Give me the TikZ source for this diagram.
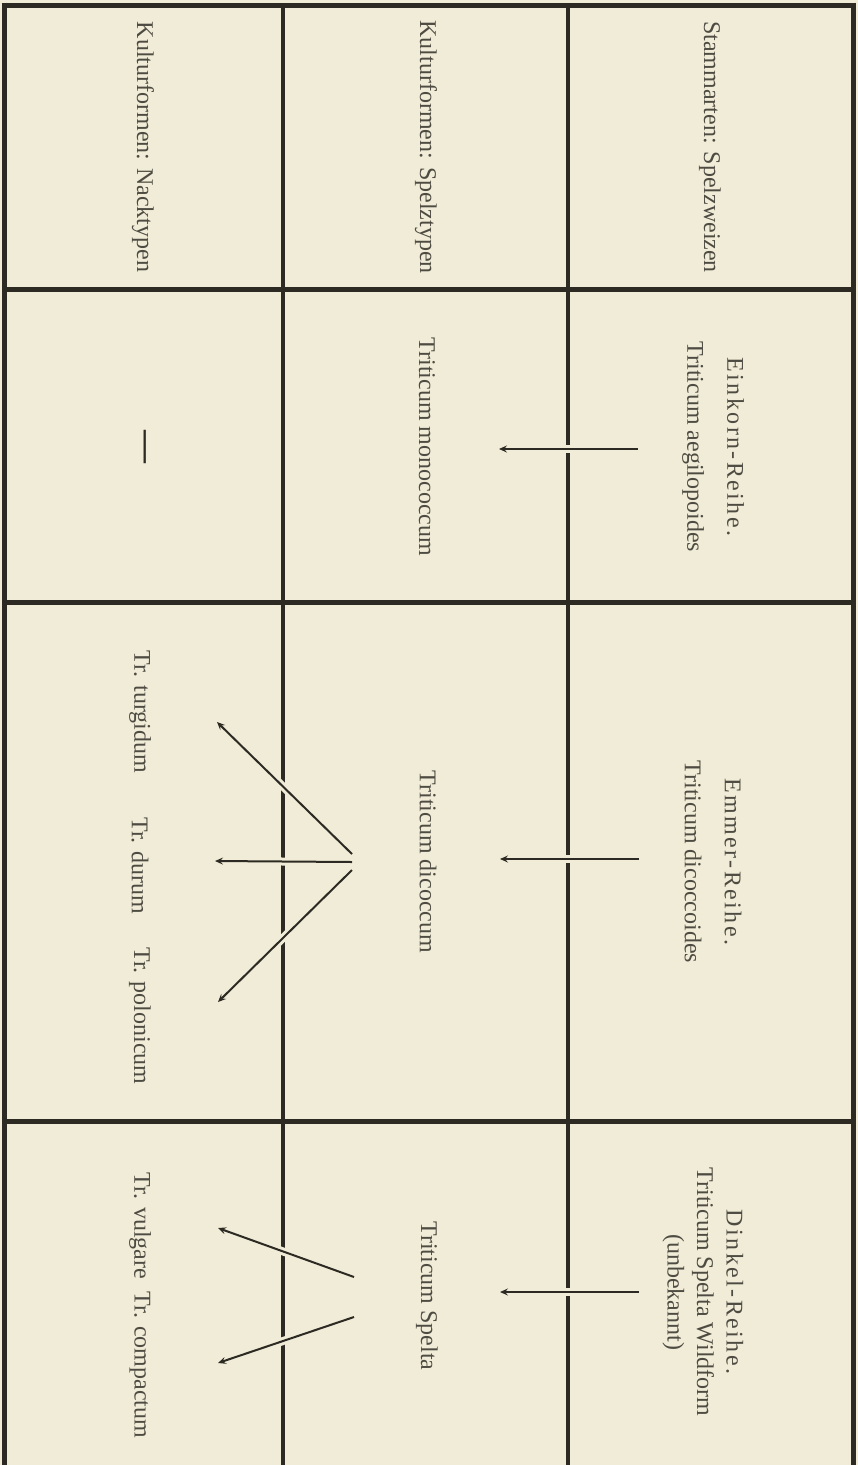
\documentclass[tikz,border=0pt]{standalone}
\usepackage{fontspec}
\setmainfont{Liberation Serif}
\newfontfamily\sperr[LetterSpace=10]{Liberation Serif}
\usetikzlibrary{arrows.meta}
\definecolor{paper}{HTML}{F1ECD7}
\definecolor{ink}{HTML}{2C2A22}
\definecolor{txt}{HTML}{4E4B42}
\begin{document}
\begin{tikzpicture}[x=1pt,y=-1pt,
  rule/.style={draw=ink,line width=5pt},
  inner/.style={draw=ink,line width=4pt},
  lbl/.style={text=txt,font=\fontsize{24}{28}\selectfont,rotate=-90,inner sep=0pt,align=center},
  arr/.style={draw=ink,line width=2pt,-{Stealth[length=8pt,width=7pt,inset=3pt]}},
  halo/.style={draw=paper,line width=8pt}]
\fill[paper] (0,0) rectangle (858,1465);
\useasboundingbox (0,0) rectangle (858,1465);
% table rules
\draw[rule] (1.5,5) -- (855.5,5);
\draw[rule] (4,2.5) -- (4,1465);
\draw[rule] (853,2.5) -- (853,1465);
\draw[rule] (4,289) -- (853,289);
\draw[rule] (4,602) -- (853,602);
\draw[rule] (4,1121) -- (853,1121);
\draw[inner] (283,5) -- (283,1465);
\draw[inner] (568,5) -- (568,1465);
% arrow end points
\coordinate (einS) at (638,449);  \coordinate (einT) at (499,449);
\coordinate (emS)  at (639,859);  \coordinate (emT)  at (500,859);
\coordinate (diS)  at (639,1292); \coordinate (diT)  at (500,1292);
\coordinate (fa1S) at (352,854);  \coordinate (fa1T) at (217,722);
\coordinate (fa2S) at (352,862);  \coordinate (fa2T) at (215,861);
\coordinate (fa3S) at (352,870);  \coordinate (fa3T) at (218,1002);
\coordinate (fb1S) at (354,1277); \coordinate (fb1T) at (218,1228);
\coordinate (fb2S) at (354,1317); \coordinate (fb2T) at (218,1363);
% halos (gaps in the rules where arrows cross)
\foreach \a in {ein,em,di,fa1,fa2,fa3,fb1,fb2}{\draw[halo] (\a S) -- (\a T);}
% arrows
\foreach \a in {ein,em,di,fa1,fa2,fa3,fb1,fb2}{\draw[arr] (\a S) -- (\a T);}
% header row
\node[lbl] (hStamm) at (710,147) {Stammarten: Spelzweizen};
\node[lbl] (hSpelz) at (426,147) {Kulturformen: Spelztypen};
\node[lbl] (hNackt) at (143,147) {Kulturformen: Nacktypen};
% Stammarten
\node[lbl,font=\fontsize{24}{40}\selectfont] (ein) at (713,447) {{\sperr Einkorn-Reihe.}\\Triticum aegilopoides};
\node[lbl,font=\fontsize{24}{40}\selectfont] (emm) at (713,862) {{\sperr Emmer-Reihe.}\\Triticum dicoccoides};
\node[lbl,font=\fontsize{24}{29.5}\selectfont] (din) at (703,1292) {{\sperr Dinkel-Reihe.}\\Triticum Spelta Wildform\\(unbekannt)};
% Spelztypen
\node[lbl] (mono) at (427,447) {Triticum monococcum};
\node[lbl] (dicoc) at (428,862) {Triticum dicoccum};
\node[lbl] (spel) at (427,1296) {Triticum Spelta};
% Nacktypen
\node[lbl,text=ink,font=\fontsize{33}{33}\bfseries] (none) at (142,447) {—};
\node[lbl] (turg) at (140,712) {Tr. turgidum};
\node[lbl] (dur) at (140,866) {Tr. durum};
\node[lbl] (pol) at (140,1016) {Tr. polonicum};
\node[lbl] (vul) at (140,1226) {Tr. vulgare};
\node[lbl] (comp) at (140,1365) {Tr. compactum};
\end{tikzpicture}
\end{document}
